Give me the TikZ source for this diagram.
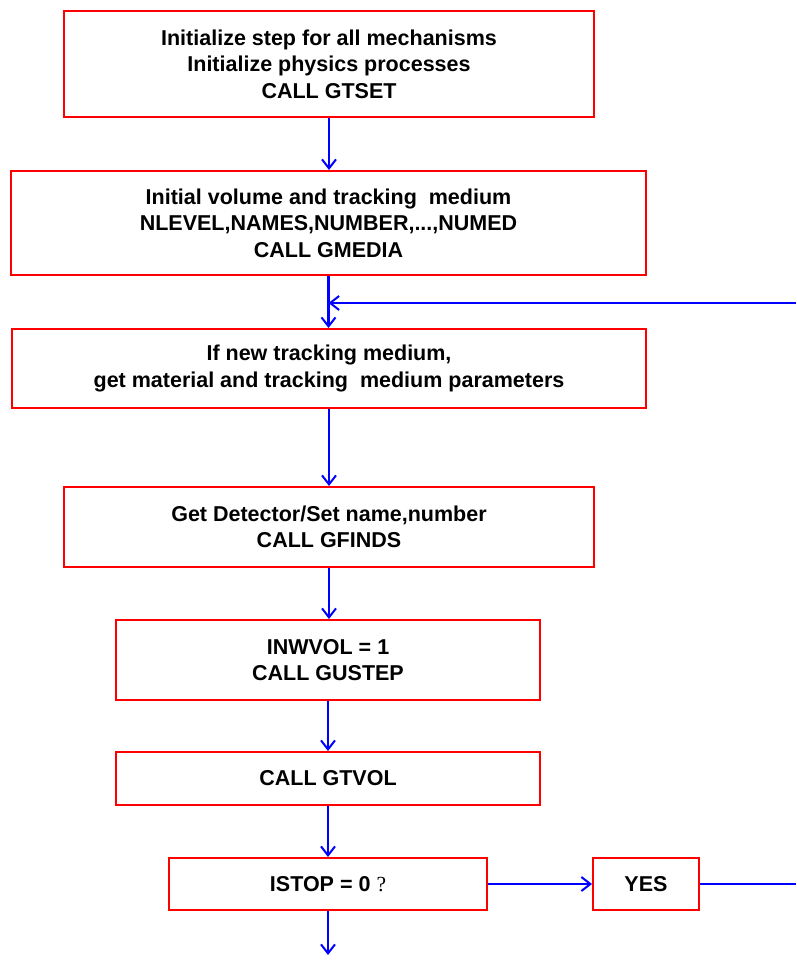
\documentclass[tikz,border=0pt]{standalone}
\usepackage{fontspec}
\setmainfont{Liberation Sans}
\newfontfamily\qfont{Liberation Serif}
\usetikzlibrary{arrows.meta}
\tikzset{
  box/.style={draw=red, line width=2pt, fill=white, inner sep=0pt, align=center,
    font=\fontsize{21.5pt}{26.6pt}\selectfont\bfseries},
  flow/.style={draw=blue, line width=2.6pt},
  arr/.style={flow, -{Straight Barb[length=9pt,width=14pt,line width=2pt]}},
}
\begin{document}
\begin{tikzpicture}[x=1pt,y=-1pt]
\useasboundingbox (0,0) rectangle (796,963);
\node[box, minimum width=530pt, minimum height=106pt] (b1) at (329,64)
  {Initialize step for all mechanisms\\Initialize physics processes\\CALL GTSET};
\node[box, minimum width=635pt, minimum height=104pt] (b2) at (328.5,223)
  {Initial volume and tracking\ \ medium\\NLEVEL,NAMES,NUMBER,...,NUMED\\CALL GMEDIA};
\node[box, minimum width=634pt, minimum height=79pt] (b3) at (329,368.5)
  {If new tracking medium,\\get material and tracking\ \ medium parameters};
\node[box, minimum width=530pt, minimum height=80pt] (b4) at (329,527)
  {Get Detector/Set name,number\\CALL GFINDS};
\node[box, minimum width=424pt, minimum height=80pt] (b5) at (328,660)
  {INWVOL = 1\\CALL GUSTEP};
\node[box, minimum width=424pt, minimum height=53pt] (b6) at (328,778.5)
  {CALL GTVOL};
\node[box, minimum width=318pt, minimum height=52pt] (b7) at (328,884)
  {ISTOP = 0 {\qfont\mdseries ?}};
\node[box, minimum width=106pt, minimum height=52pt] (yes) at (646,884)
  {YES};
\coordinate (fbR) at (796,303);
\coordinate (yesR) at (796,884);
\coordinate (endp) at (328.5,955);
\draw[arr] (b1.south) -- (b1.south |- b2.north);
\draw[arr] (b2.south) -- (b2.south |- b3.north);
\draw[arr] (fbR) -- (b2.south |- fbR);
\draw[arr] (b3.south) -- (b3.south |- b4.north);
\draw[arr] (b4.south) -- (b4.south |- b5.north);
\draw[arr] (b5.south) -- (b5.south |- b6.north);
\draw[arr] (b6.south) -- (b6.south |- b7.north);
\draw[arr] (b7.east) -- (yes.west);
\draw[flow] (yes.east) -- (yesR);
\draw[arr] (b7.south) -- (b7.south |- endp);
\end{tikzpicture}
\end{document}
